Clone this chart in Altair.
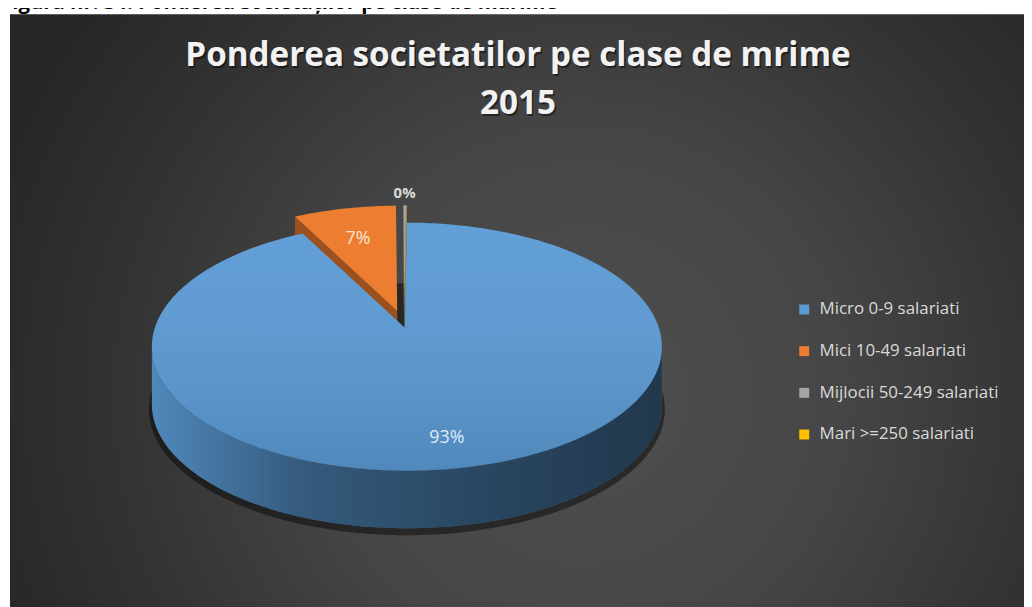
import math
import altair as alt
import pandas as pd

# ---------------- data ----------------
categories = ["Micro 0-9 salariati", "Mici 10-49 salariati",
              "Mijlocii 50-249 salariati", "Mari >=250 salariati"]
shares = [93.3, 6.5, 0.17, 0.03]
pct_labels = ["93%", "7%", "0%", ""]
exploded = [False, True, True, True]
title_lines = ["Ponderea societatilor pe clase de mrime", "2015"]
header_text = "Figura nr. 34: Ponderea societăților pe clase de mărime"

# ---------------- style ----------------
palette = ["#5b9bd5", "#ed7d31", "#a5a5a5", "#ffc000"]
label_colors = ["#dfeaf6", "#fbe2cf", "#d9d9d9", "#d9d9d9"]
FONT = "Open Sans"

W, H = 1024, 599          # whole svg (page margin 8px)
CX, CY = 402, 339         # ellipse centre
RX, RY = 257, 125         # ellipse radii
DEPTH = 58                # pie thickness
APEX_DX, APEX_DY = -2, -19
EXPLODE = 0.14
STEP = 1.0


def rim(theta, dx=0.0, dy=0.0, down=0.0, rx=RX, ry=RY):
    t = math.radians(theta)
    return (CX + dx + rx * math.sin(t), CY + dy - ry * math.cos(t) + down)


def arc(a0, a1):
    n = max(2, int(math.ceil(abs(a1 - a0) / STEP)) + 1)
    return [a0 + (a1 - a0) * i / (n - 1) for i in range(n)]


total = sum(shares)
rows = []
lab_rows = []
cum = 0.0
pid = 0


def add_poly(pts, cat, stage):
    global pid
    for k, (x, y) in enumerate(pts):
        rows.append({"poly": pid, "cat": cat, "stage": stage, "k": k, "x": x, "y": y})
    pid += 1


for i, (cat, s) in enumerate(zip(categories, shares)):
    a0 = 360.0 * cum / total
    a1 = 360.0 * (cum + s) / total
    cum += s
    mid = (a0 + a1) / 2
    mr = math.radians(mid)
    offx = EXPLODE * RX * math.sin(mr) if exploded[i] else 0.0
    offy = -EXPLODE * RY * math.cos(mr) if exploded[i] else 0.0
    ax, ay = CX + APEX_DX + offx, CY + APEX_DY + offy
    back = -math.cos(mr) < 0

    # radial start face (visible when facing the viewer)
    if math.sin(math.radians(a0)) < -1e-9:
        p0 = rim(a0, offx, offy)
        p1 = rim(a0, offx, offy, DEPTH)
        add_poly([(ax, ay), p0, p1, (ax, ay + DEPTH)], cat, 0)
    # front rim side
    s0, s1 = max(a0, 90.0), min(a1, 270.0)
    if s1 > s0:
        top = [rim(a, offx, offy) for a in arc(s0, s1)]
        bot = [rim(a, offx, offy, DEPTH) for a in reversed(arc(s0, s1))]
        add_poly(top + bot, cat, 2)
    # top face
    add_poly([(ax, ay)] + [rim(a, offx, offy) for a in arc(a0, a1)], cat, 1 if back else 3)

    # data label
    if not pct_labels[i]:
        continue
    if s / total >= 0.01:
        mx, my = rim(mid, offx, offy)
        cx0, cy0 = CX + offx, CY + offy
        lx, ly = cx0 + 0.75 * (mx - cx0), cy0 + 0.75 * (my - cy0)
        inside = True
    else:
        lx, ly = rim(mid, offx, offy, rx=RX * 1.1, ry=RY * 1.1)
        inside = False
    lab_rows.append({"x": lx, "y": ly, "text": pct_labels[i], "lc": label_colors[i],
                     "inside": inside})

df = pd.DataFrame(rows)
labels_df = pd.DataFrame(lab_rows)

# shadow ellipse under the pie
shadow_pts = [rim(a, 0, 0, DEPTH + 5, RX + 3, RY + 2) for a in arc(0, 360)]
shadow_df = pd.DataFrame({"k": range(len(shadow_pts)),
                          "x": [p[0] for p in shadow_pts],
                          "y": [p[1] for p in shadow_pts]})

xs = alt.X("x:Q", scale=alt.Scale(domain=[0, W], range=[0, W], nice=False, zero=False), axis=None)
ys = alt.Y("y:Q", scale=alt.Scale(domain=[0, H], range=[0, H], nice=False, zero=False), axis=None)
cscale = alt.Scale(domain=categories, range=palette)

# legend holder (hidden beneath the background)
legend_layer = alt.Chart(pd.DataFrame({"cat": categories})).mark_square(size=4).encode(
    x=alt.value(500), y=alt.value(300),
    color=alt.Color("cat:N", scale=cscale, sort=categories,
                    legend=alt.Legend(orient="none", legendX=794, legendY=293, title=None,
                                      symbolType="square", symbolSize=100, symbolStrokeWidth=0,
                                      symbolOpacity=1, labelColor="#d9d9d9", labelFont=FONT,
                                      labelFontSize=17, rowPadding=24, labelOffset=7,
                                      padding=0, labelLimit=400)))

bg = alt.Chart(pd.DataFrame({"a": [0]})).mark_rect(
    fill=alt.RadialGradient(gradient="radial", x1=0.56, y1=0.58, x2=0.56, y2=0.58, r1=0, r2=0.62,
                            stops=[alt.GradientStop(offset=0, color="#4f4f4f"),
                                   alt.GradientStop(offset=0.4, color="#464646"),
                                   alt.GradientStop(offset=0.75, color="#323232"),
                                   alt.GradientStop(offset=1, color="#262626")])
).encode(x=alt.value(2), x2=alt.value(W + 8), y=alt.value(4), y2=alt.value(H + 8))

header = alt.Chart(pd.DataFrame({"t": [header_text]})).mark_text(
    align="left", baseline="alphabetic", font=FONT, fontWeight="bold", fontSize=20.5, color="black"
).encode(x=alt.value(-7), y=alt.value(-1), text="t:N")

shadow = alt.Chart(shadow_df).mark_line(filled=True, fill="black", opacity=0.45).encode(
    x=xs, y=ys, order="k:Q")


def poly_layer(stage):
    return alt.Chart(df).transform_filter(alt.datum.stage == stage).mark_line(
        filled=True, strokeWidth=0).encode(
        x=xs, y=ys, order="k:Q", detail="poly:N",
        color=alt.Color("cat:N", scale=cscale, legend=None))


def overlay(stage, fill):
    return alt.Chart(df).transform_filter(alt.datum.stage == stage).mark_line(
        filled=True, fill=fill, strokeWidth=0).encode(
        x=xs, y=ys, order="k:Q", detail="poly:N")


side_grad = alt.LinearGradient(gradient="linear", x1=0, y1=0, x2=1, y2=0, stops=[
    alt.GradientStop(offset=0, color="rgba(0,0,0,0.12)"),
    alt.GradientStop(offset=0.3, color="rgba(0,0,0,0.42)"),
    alt.GradientStop(offset=0.65, color="rgba(0,0,0,0.55)"),
    alt.GradientStop(offset=1, color="rgba(0,0,0,0.64)")])
top_grad = alt.LinearGradient(gradient="linear", x1=0, y1=0, x2=0, y2=1, stops=[
    alt.GradientStop(offset=0, color="rgba(255,255,255,0.04)"),
    alt.GradientStop(offset=1, color="rgba(0,0,0,0.12)")])
face_dark = "rgba(0,0,0,0.35)"

labels_in = alt.Chart(labels_df).transform_filter(alt.datum.inside == True).mark_text(
    font=FONT, fontSize=18, align="center", baseline="middle").encode(
    x=xs, y=ys, text="text:N", color=alt.Color("lc:N", scale=None))
labels_out = alt.Chart(labels_df).transform_filter(alt.datum.inside == False).mark_text(
    font=FONT, fontSize=15, fontWeight="bold", align="center", baseline="middle").encode(
    x=xs, y=ys, text="text:N", color=alt.Color("lc:N", scale=None))

title_layers = []
for j, line in enumerate(title_lines):
    tdf = pd.DataFrame({"t": [line]})
    yv = 56 + 48 * j
    title_layers.append(alt.Chart(tdf).mark_text(
        font=FONT, fontWeight="bold", fontSize=33.5, color="black", opacity=0.45,
        align="center", baseline="alphabetic").encode(
        x=alt.value(514 + 1.5), y=alt.value(yv + 2), text="t:N"))
    title_layers.append(alt.Chart(tdf).mark_text(
        font=FONT, fontWeight="bold", fontSize=33.5, color="#f2f2f2",
        align="center", baseline="alphabetic").encode(
        x=alt.value(514), y=alt.value(yv), text="t:N"))

chart = alt.layer(
    legend_layer, bg, header, shadow,
    poly_layer(0), overlay(0, face_dark),
    poly_layer(1),
    poly_layer(2), overlay(2, side_grad),
    poly_layer(3), overlay(3, top_grad),
    labels_in, labels_out, *title_layers
).properties(
    width=W, height=H, padding=0,
    autosize=alt.AutoSizeParams(type="none"), background="white"
).configure_view(stroke=None)

chart.save("out.html", embed_options={"renderer": "svg", "actions": False})
